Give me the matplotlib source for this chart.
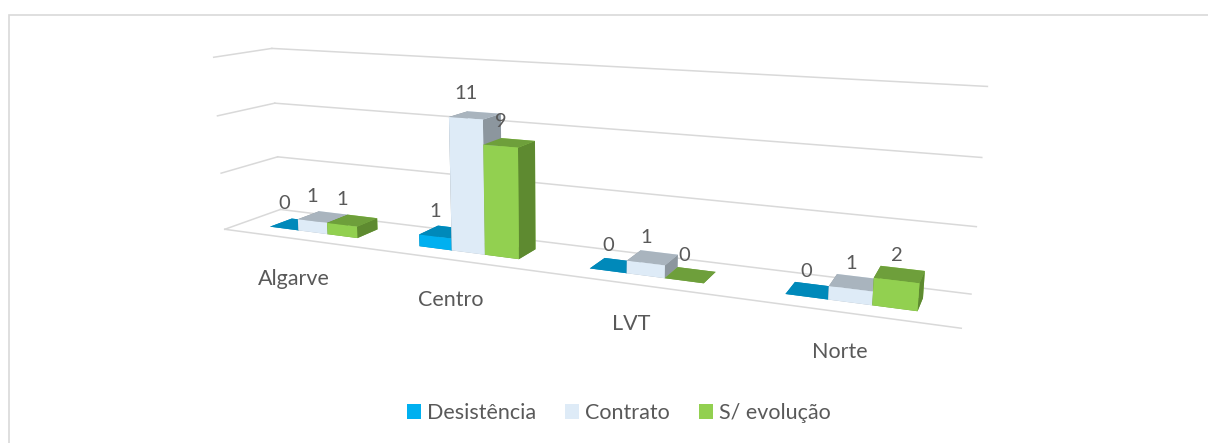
import matplotlib
matplotlib.use("Agg")
import matplotlib.pyplot as plt
import numpy as np
from matplotlib.patches import Patch, Rectangle
from mpl_toolkits.mplot3d import proj3d

### Data

categories = ["Algarve", "Centro", "LVT", "Norte"]
series = ["Desistência", "Contrato", "S/ evolução"]
desistencia = [0, 1, 0, 0]
contrato = [1, 11, 1, 1]
s_evolucao = [1, 9, 0, 2]
z_ticks = [0, 5, 10, 15]

### Style

plt.rcParams['font.family'] = ['Lato', 'DejaVu Sans']
TEXT = "#595959"
GRID = "#D9D9D9"
# front, top, right side for each series
face_cols = [
    ("#00B0F0", "#0089BA", "#0078A3"),
    ("#DEEBF7", "#A9B4BE", "#8C969E"),
    ("#92D050", "#6E9F3B", "#5E8A30"),
]

W, H = 1208, 443
fig = plt.figure(figsize=(W / 100, H / 100), dpi=100)
fig.patches.append(Rectangle((9 / W, -0.1), 1.2, 1 - 15 / H + 0.1,
                             transform=fig.transFigure, fill=False,
                             edgecolor=GRID, linewidth=1.2))

# 3d axes are square, so make a big square and let it spill off the figure
side = 1100
cx, cy = 547, 181
ax = fig.add_axes([(cx - side / 2) / W, (H - cy - side / 2) / H, side / W, side / H],
                  projection='3d')
ax.patch.set_alpha(0)
ax.computed_zorder = False
ax.set_proj_type('persp', focal_length=0.19)
ax.view_init(elev=12, azim=-66)
ax.set_box_aspect((7.5, 0.95, 1.85), zoom=0.714)
ax.set_axis_off()

x0, x1 = -0.5, len(categories) - 0.5
y0, y1 = 0.0, 1.0
ax.set_xlim(x0, x1)
ax.set_ylim(y0, y1)
ax.set_zlim(0, z_ticks[-1])

# back wall and left wall gridlines
for z in z_ticks:
    ax.plot([x0, x1], [y1, y1], [z, z], color=GRID, lw=1.1, zorder=1)
    ax.plot([x0, x0], [y0, y1], [z, z], color=GRID, lw=1.1, zorder=1)
ax.plot([x0, x1], [y0, y0], [0, 0], color=GRID, lw=1.1, zorder=1)

### Bars

width = 0.2
depth = 0.4
yb = 0.3
xs, ys, dzs, cols = [], [], [], []
for s, vals in enumerate([desistencia, contrato, s_evolucao]):
    front, top, side_c = face_cols[s]
    for i, v in enumerate(vals):
        xs.append(i - 0.3 + s * width)
        ys.append(yb)
        dzs.append(v)
        # faces: -z, +z, -y, +y, -x, +x
        cols += [top, top, front, front, side_c, side_c]

n = len(xs)
bars = ax.bar3d(xs, ys, np.zeros(n), [width] * n, [depth] * n, dzs,
                color=cols, shade=False, edgecolor='none')
bars.set_zorder(2)

### Labels (projected to 2d so they are plain annotations)

fig.canvas.draw()
M = ax.get_proj()

def put(x, y, z, s, dy, size):
    px, py, _ = proj3d.proj_transform(x, y, z, M)
    ax.annotate(s, xy=(px, py), xycoords='data', xytext=(0, dy),
                textcoords='offset points', ha='center', va='center',
                fontsize=size, color=TEXT, annotation_clip=False, zorder=5)

for s, vals in enumerate([desistencia, contrato, s_evolucao]):
    for i, v in enumerate(vals):
        put(i - 0.3 + s * width + width / 2, yb, v, str(v), 18, 14.5)

for i, c in enumerate(categories):
    put(i - 0.02, 0.0, 0, c, -29, 15.5)

handles = [Patch(facecolor=f[0], edgecolor='none') for f in face_cols]
fig.legend(handles, series, loc='center', bbox_to_anchor=(0.512, 0.068),
           ncol=3, frameon=False, fontsize=15.5, handlelength=0.68,
           handleheight=0.68, handletextpad=0.25, columnspacing=1.35,
           labelcolor=TEXT)

fig.savefig("out.png", dpi=100)
